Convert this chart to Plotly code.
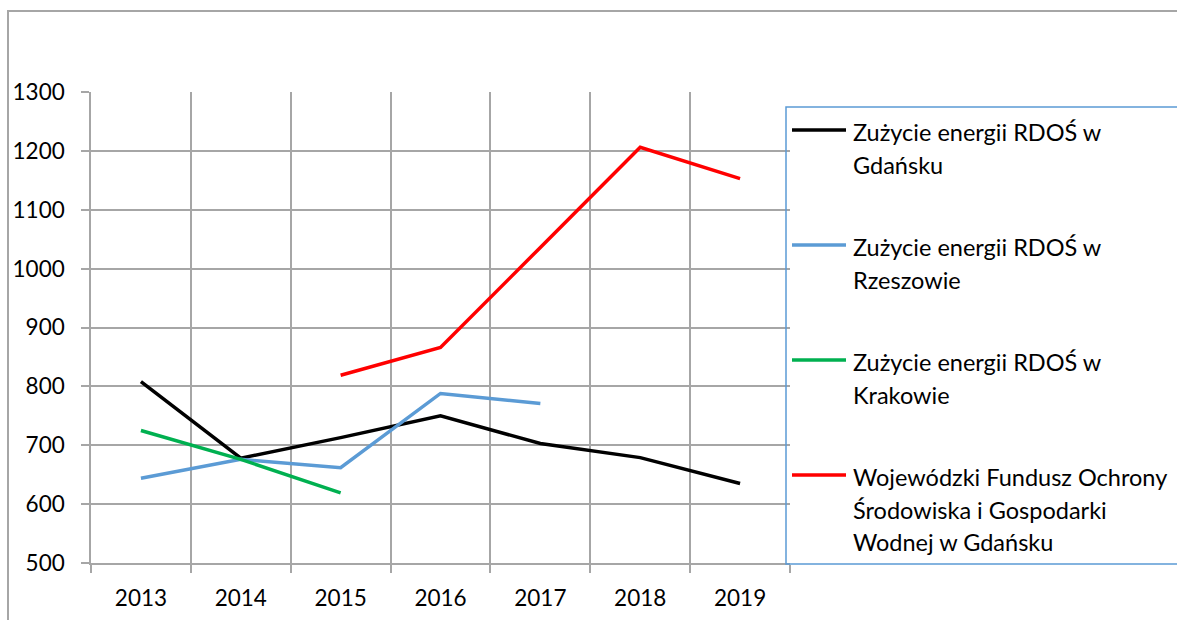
import plotly.graph_objects as go

# ---- data ----
years = ["2013", "2014", "2015", "2016", "2017", "2018", "2019"]
gdansk = [808, 678, 713, 750, 703, 679, 635]
rzeszow = [644, 676, 662, 788, 771, None, None]
krakow = [725, 676, 619, None, None, None, None]
wfos = [None, None, 819, 866, 1036, 1206, 1153]
y_ticks = [500, 600, 700, 800, 900, 1000, 1100, 1200, 1300]

series_names = [
    ["Zużycie energii RDOŚ w", "Gdańsku"],
    ["Zużycie energii RDOŚ w", "Rzeszowie"],
    ["Zużycie energii RDOŚ w", "Krakowie"],
    ["Wojewódzki Fundusz Ochrony", "Środowiska i Gospodarki", "Wodnej w Gdańsku"],
]
series_values = [gdansk, rzeszow, krakow, wfos]
colors = ["#000000", "#5B9BD5", "#00B050", "#FF0000"]

W, H = 1177, 620
L, R, T, B = 91, 790, 92, 563
FONT = "Lato"
TICK_SIZE = 22.5
LEG_SIZE = 23.5


def fx(px):
    return (px - L) / (R - L)


def fy(py):
    return (B - py) / (B - T)


fig = go.Figure()
for names, vals, col in zip(series_names, series_values, colors):
    fig.add_trace(go.Scatter(
        x=years, y=vals, mode="lines", name=" ".join(names),
        line=dict(color=col, width=3.5), connectgaps=False,
        showlegend=False,
    ))

shapes = []
annotations = []

# outer chart border
shapes.append(dict(type="rect", xref="paper", yref="paper",
                   x0=fx(8), x1=fx(1190), y0=fy(11), y1=fy(640),
                   line=dict(color="#A6A6A6", width=2), fillcolor="rgba(0,0,0,0)",
                   layer="below"))

# legend box
shapes.append(dict(type="rect", xref="paper", yref="paper",
                   x0=fx(786), x1=fx(1190), y0=fy(107), y1=fy(564),
                   line=dict(color="#5B9BD5", width=1.5), fillcolor="rgba(0,0,0,0)"))

sym_y = [130, 245, 360, 475]
line_gap = 32.5
for names, col, sy in zip(series_names, colors, sym_y):
    shapes.append(dict(type="line", xref="paper", yref="paper",
                       x0=fx(792), x1=fx(846), y0=fy(sy), y1=fy(sy),
                       line=dict(color=col, width=3.5)))
    for i, txt in enumerate(names):
        annotations.append(dict(
            xref="paper", yref="paper", x=fx(851), y=fy(sy + 2 + i * line_gap),
            xanchor="left", yanchor="middle", text=txt, showarrow=False,
            font=dict(family=FONT, size=LEG_SIZE, color="#000000"),
        ))

fig.update_layout(
    width=W, height=H,
    margin=dict(l=L, r=W - R, t=T, b=H - B, autoexpand=False),
    paper_bgcolor="white", plot_bgcolor="white",
    font=dict(family=FONT, size=TICK_SIZE, color="#000000"),
    shapes=shapes, annotations=annotations,
    showlegend=False,
)
fig.update_xaxes(
    type="category", categoryorder="array", categoryarray=years,
    range=[-0.5, 6.5], tickson="boundaries",
    showgrid=True, gridcolor="#A6A6A6", gridwidth=1.5,
    showline=True, linecolor="#A6A6A6", linewidth=1.5,
    ticks="outside", ticklen=8, tickcolor="#A6A6A6", tickwidth=1.5,
    ticklabelstandoff=14,
    tickfont=dict(family=FONT, size=TICK_SIZE, color="#000000"),
    zeroline=False,
)
fig.update_yaxes(
    range=[500, 1300], tickvals=y_ticks,
    showgrid=True, gridcolor="#A6A6A6", gridwidth=1.5,
    showline=True, linecolor="#A6A6A6", linewidth=1.5,
    ticks="outside", ticklen=8, tickcolor="#A6A6A6", tickwidth=1.5,
    ticklabelstandoff=12,
    tickfont=dict(family=FONT, size=TICK_SIZE, color="#000000"),
    zeroline=False,
)

fig.write_html(
    "out.html",
    config={"displayModeBar": False},
    post_script="document.body.style.margin='0px';document.body.style.overflow='hidden';",
)
